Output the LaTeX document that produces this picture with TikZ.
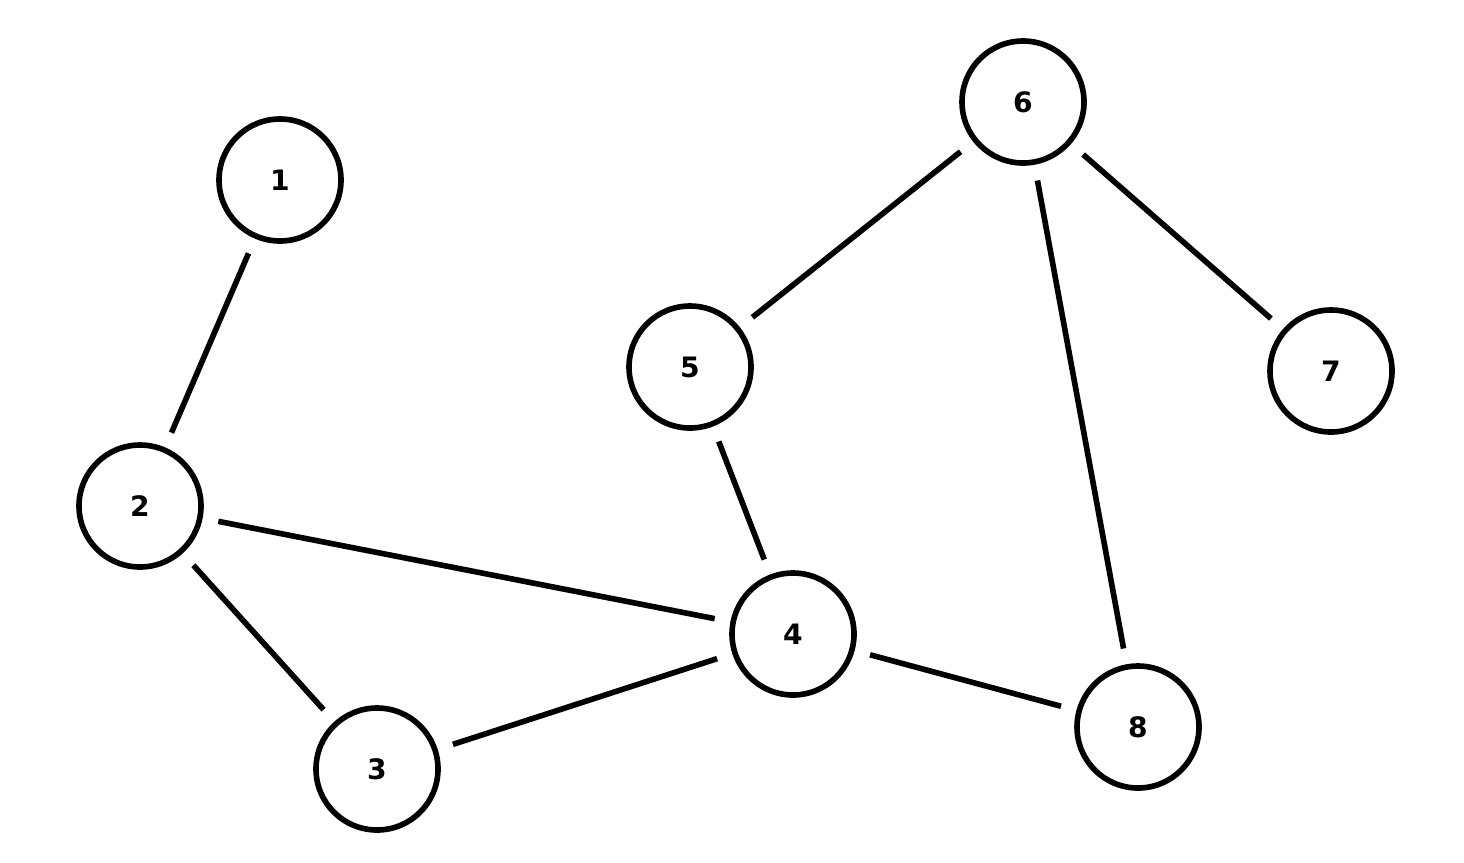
\documentclass[tikz,border=0pt]{standalone}
\usepackage{fontspec}
\setmainfont{DejaVu Sans}
\usetikzlibrary{positioning, calc}

\begin{document}
\begin{tikzpicture}[
    vertex/.style={circle, draw, line width=1.6pt, minimum size=1.22cm, inner sep=0pt, font=\footnotesize\bfseries},
    edge/.style={line width=1.6pt, shorten <=0.16cm, shorten >=0.16cm}
]
    \useasboundingbox (0,0) rectangle (14.64,8.62);

    \node[vertex] (v1) at (2.80,6.82) {1};
    \node[vertex] (v2) at (1.40,3.56) {2};
    \node[vertex] (v3) at (3.77,0.93) {3};
    \node[vertex] (v4) at (7.93,2.28) {4};
    \node[vertex] (v5) at (6.90,4.95) {5};
    \node[vertex] (v6) at (10.23,7.60) {6};
    \node[vertex] (v7) at (13.31,4.91) {7};
    \node[vertex] (v8) at (11.38,1.35) {8};

    \draw[edge] (v1) -- (v2);
    \draw[edge] (v2) -- (v4);
    \draw[edge] (v2) -- (v3);
    \draw[edge] (v3) -- (v4);
    \draw[edge] (v4) -- (v5);
    \draw[edge] (v4) -- (v8);
    \draw[edge] (v5) -- (v6);
    \draw[edge] (v6) -- (v7);
    \draw[edge] (v6) -- (v8);
\end{tikzpicture}
\end{document}
